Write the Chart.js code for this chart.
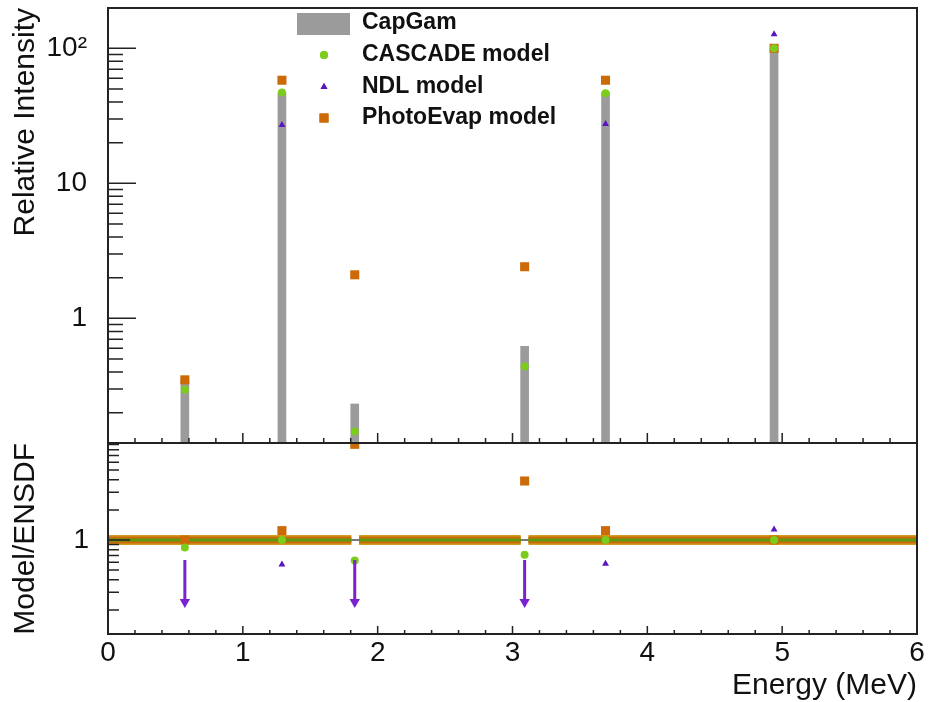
<!DOCTYPE html>
<html>
<head>
<meta charset="utf-8">
<script src="https://cdn.jsdelivr.net/npm/chart.js@4.4.1/dist/chart.umd.min.js"></script>
<style>
  html, body { margin: 0; padding: 0; background: #fff; }
  #wrap { width: 929px; height: 702px; }
</style>
</head>
<body>
<div id="wrap"><canvas id="spectrumChart" width="929" height="702"></canvas></div>
<script>
// gamma line energies (MeV)
const energies = [0.57, 1.29, 1.83, 3.09, 3.69, 4.94];
// relative intensities, top panel
const capgam = [0.35, 47, 0.232, 0.62, 47, 100];
const cascade = [0.295, 47, 0.145, 0.44, 46.5, 100];
const ndl = [null, 27, null, null, 27.5, 127];
const photoEvap = [0.35, 58, 2.1, 2.41, 58, 100];
// model / ENSDF, bottom panel
const cascadeRatio = [0.84, 1, 0.625, 0.71, 1, 1];
const ndlRatio = [null, 0.57, null, null, 0.58, 1.27];
const photoEvapRatio = [1, 1.24, 9.05, 3.89, 1.24, 1];
// NDL lines missing -> upper limit arrows
const ndlLimitEnergies = [0.57, 1.83, 3.09];
const ndlLimitTop = 0.63;
const ndlLimitTip = 0.24;
// ratio == 1 band (empty bins), broken where a line sits
const unitySegments = [[0, 1.805], [1.862, 3.061], [3.118, 6]];

const xTickLabels = ['0', '1', '2', '3', '4', '5', '6'];
const intensityTickLabels = { 1: '1', 10: '10', 100: '10\u00b2' };
const ratioTickLabels = { 1: '1' };
const seriesNames = ['CapGam', 'CASCADE model', 'NDL model', 'PhotoEvap model'];

const GRAY = '#9b9b9b', ORANGE = '#cc6a08', GREEN = '#7ccc1c', PURPLE = '#5a14c0', ARROW = '#7a22d0';

Chart.defaults.font.family = "'Liberation Sans', Arial, sans-serif";
Chart.defaults.color = '#111';

function points(values) {
  return energies.map((e, i) => ({ x: e, y: values[i] })).filter(p => p.y !== null);
}

function logTicks(min, max) {
  const out = [];
  for (let exp = Math.floor(Math.log10(min)); exp <= Math.ceil(Math.log10(max)); exp++) {
    for (let m = 1; m <= 9; m++) {
      const v = +(m * Math.pow(10, exp)).toPrecision(6);
      if (v >= min && v <= max) out.push(v);
    }
  }
  return out;
}

// keep the frame exactly where the layout padding puts it
function noEdgePadding(s) {
  s.paddingTop = 0; s.paddingBottom = 0; s.paddingLeft = 0; s.paddingRight = 0;
}

const unityData = unitySegments.flatMap(s => [{ x: s[0], y: 1 }, { x: s[1], y: 1 }, { x: s[1], y: null }]);
const arrowShafts = ndlLimitEnergies.flatMap(e => [{ x: e, y: ndlLimitTop }, { x: e, y: ndlLimitTip }, { x: e, y: null }]);
const arrowHeads = ndlLimitEnergies.map(e => ({ x: e, y: ndlLimitTip }));

const frameAndLegend = {
  id: 'frameAndLegend',
  afterDraw(chart) {
    const { ctx, chartArea, scales } = chart;
    const { left, right, top, bottom } = chartArea;
    const yI = scales.y, yR = scales.yRatio;
    const split = Math.max(yI.top, yR.top);
    ctx.save();
    ctx.strokeStyle = '#222';
    ctx.lineWidth = 1.5;
    ctx.beginPath();
    // y ticks, top panel
    logTicks(yI.min, yI.max).forEach(v => {
      const py = yI.getPixelForValue(v);
      const len = intensityTickLabels[v] ? 28 : 15;
      ctx.moveTo(left, py); ctx.lineTo(left + len, py);
    });
    // y ticks, ratio panel
    logTicks(yR.min, yR.max).forEach(v => {
      const py = yR.getPixelForValue(v);
      const len = ratioTickLabels[v] ? 22 : 11;
      ctx.moveTo(left, py); ctx.lineTo(left + len, py);
    });
    // x ticks on both panels
    for (let i = 0; i <= 30; i++) {
      const px = scales.x.getPixelForValue(i * 0.2);
      const major = i % 5 === 0;
      ctx.moveTo(px, split); ctx.lineTo(px, split - (major ? 10 : 5));
      ctx.moveTo(px, bottom); ctx.lineTo(px, bottom - (major ? 8 : 4));
    }
    ctx.stroke();
    ctx.lineWidth = 2;
    ctx.strokeRect(left, top, right - left, bottom - top);
    ctx.beginPath();
    ctx.moveTo(left, split); ctx.lineTo(right, split);
    ctx.stroke();

    // legend
    const lx = 324, tx = 362, rows = [23, 55, 87, 118];
    ctx.fillStyle = GRAY;
    ctx.fillRect(297, 13, 53, 22);
    const marks = [null, ['circle', GREEN, 4], ['triangle', PURPLE, 4], ['rect', ORANGE, 6.4]];
    marks.forEach((m, i) => {
      if (!m) return;
      ctx.fillStyle = m[1];
      Chart.helpers.drawPoint(ctx, { pointStyle: m[0], radius: m[2], borderWidth: 0, rotation: 0 }, lx, rows[i]);
      ctx.fill();
    });
    ctx.fillStyle = '#111';
    ctx.font = "bold 23px 'Liberation Sans', Arial, sans-serif";
    ctx.textBaseline = 'middle';
    seriesNames.forEach((name, i) => ctx.fillText(name, tx, rows[i]));
    ctx.restore();
  }
};

new Chart(document.getElementById('spectrumChart'), {
  data: {
    datasets: [
      { type: 'bar', label: seriesNames[0], data: points(capgam), xAxisID: 'x', yAxisID: 'y',
        backgroundColor: GRAY, barThickness: 8, order: 10 },
      { type: 'scatter', label: seriesNames[3], data: points(photoEvap), yAxisID: 'y',
        pointStyle: 'rect', pointRadius: 6.4, backgroundColor: ORANGE, borderWidth: 0, order: 5 },
      { type: 'scatter', label: seriesNames[1], data: points(cascade), yAxisID: 'y',
        pointStyle: 'circle', pointRadius: 4, backgroundColor: GREEN, borderWidth: 0, order: 4 },
      { type: 'scatter', label: seriesNames[2], data: points(ndl), yAxisID: 'y',
        pointStyle: 'triangle', pointRadius: 4, backgroundColor: PURPLE, borderWidth: 0, order: 3 },

      // ratio panel
      { type: 'line', data: [{ x: 0, y: 1 }, { x: 6, y: 1 }], yAxisID: 'yRatio',
        borderColor: '#7a7a7a', borderWidth: 2, pointRadius: 0, order: 9 },
      { type: 'line', data: unityData, yAxisID: 'yRatio', borderColor: '#d2a020', borderWidth: 10,
        pointRadius: 0, spanGaps: false, order: 8 },
      { type: 'line', data: unityData, yAxisID: 'yRatio', borderColor: ORANGE, borderWidth: 7,
        pointRadius: 0, spanGaps: false, order: 7 },
      { type: 'line', data: unityData, yAxisID: 'yRatio', borderColor: '#5c9a10', borderWidth: 3,
        pointRadius: 0, spanGaps: false, order: 6 },
      { type: 'scatter', data: points(photoEvapRatio), yAxisID: 'yRatio',
        pointStyle: 'rect', pointRadius: 6.4, backgroundColor: ORANGE, borderWidth: 0, order: 5 },
      { type: 'scatter', data: points(cascadeRatio), yAxisID: 'yRatio',
        pointStyle: 'circle', pointRadius: 4, backgroundColor: GREEN, borderWidth: 0, order: 4 },
      { type: 'scatter', data: points(ndlRatio), yAxisID: 'yRatio',
        pointStyle: 'triangle', pointRadius: 4, backgroundColor: PURPLE, borderWidth: 0, order: 3 },
      { type: 'line', data: arrowShafts, yAxisID: 'yRatio', borderColor: ARROW, borderWidth: 3,
        pointRadius: 0, spanGaps: false, order: 2 },
      { type: 'scatter', data: arrowHeads, yAxisID: 'yRatio', pointStyle: 'triangle', rotation: 180,
        pointRadius: 6, backgroundColor: ARROW, borderWidth: 0, order: 1 }
    ]
  },
  options: {
    responsive: false,
    animation: false,
    devicePixelRatio: 1,
    layout: { padding: { top: 8, right: 12, left: 0, bottom: 0 } },
    plugins: { legend: { display: false }, tooltip: { enabled: false } },
    scales: {
      x: {
        type: 'linear', position: 'bottom', min: 0, max: 6, offset: false,
        afterFit: s => { s.height = 68; noEdgePadding(s); },
        afterBuildTicks: s => { s.ticks = xTickLabels.map(t => ({ value: Number(t) })); },
        ticks: { autoSkip: false, maxRotation: 0, padding: -6, font: { size: 28 },
                 callback: (v, i) => xTickLabels[i] },
        grid: { display: false }, border: { display: false },
        title: { display: true, text: 'Energy (MeV)', align: 'end',
                 font: { size: 30, lineHeight: 1 }, padding: { top: 0, bottom: 1 } }
      },
      yRatio: {
        type: 'logarithmic', axis: 'y', position: 'left', stack: 'panels', stackWeight: 191,
        min: 0.1148, max: 9.33,
        afterFit: s => { s.width = 108; noEdgePadding(s); },
        afterBuildTicks: s => { s.ticks = Object.keys(ratioTickLabels).map(v => ({ value: Number(v) })); },
        ticks: { autoSkip: false, padding: 11, font: { size: 28 },
                 callback: v => ratioTickLabels[v] || '' },
        grid: { display: false }, border: { display: false },
        title: { display: true, text: 'Model/ENSDF', align: 'end',
                 font: { size: 30 }, padding: { top: 8, bottom: 0 } }
      },
      y: {
        type: 'logarithmic', position: 'left', stack: 'panels', stackWeight: 435,
        min: 0.1192, max: 198.8,
        afterFit: s => { s.width = 108; noEdgePadding(s); },
        afterBuildTicks: s => { s.ticks = Object.keys(intensityTickLabels).map(v => ({ value: Number(v) })); },
        ticks: { autoSkip: false, padding: 13, font: { size: 28 },
                 callback: v => intensityTickLabels[v] || '' },
        grid: { display: false }, border: { display: false },
        title: { display: true, text: 'Relative Intensity', align: 'end',
                 font: { size: 30 }, padding: { top: 8, bottom: 0 } }
      }
    }
  },
  plugins: [frameAndLegend]
});
</script>
</body>
</html>
